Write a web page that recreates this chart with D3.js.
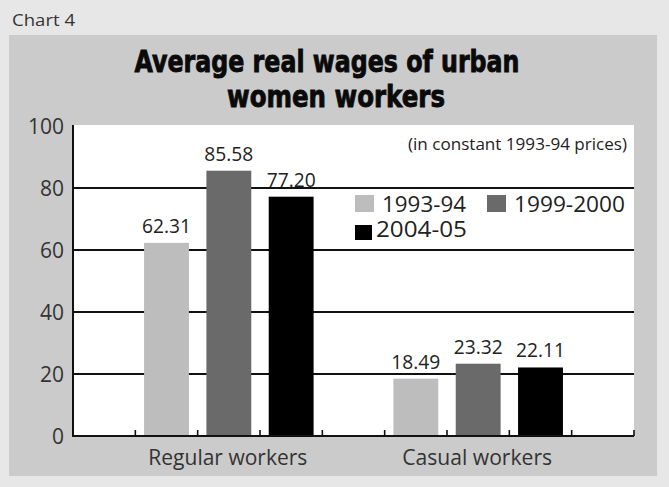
<!DOCTYPE html>
<html>
<head>
<meta charset="utf-8">
<script src="https://cdn.jsdelivr.net/npm/d3@7"></script>
<style>
  html, body { margin: 0; padding: 0; background: #e7e7e7; }
  svg { display: block; }
</style>
</head>
<body>
<svg id="chart" width="669" height="487"></svg>
<script>
// data
const categories = ["Regular workers", "Casual workers"];
const years = ["1993-94", "1999-2000", "2004-05"];
const regularWages = [62.31, 85.58, 77.20];
const casualWages = [18.49, 23.32, 22.11];
const yTicks = [0, 20, 40, 60, 80, 100];

const barColors = ["#bdbdbd", "#6a6a6a", "#000000"];
const textFont = "'Open Sans', 'DejaVu Sans', sans-serif";

const svg = d3.select("#chart");
const W = 669, H = 487;

// page + grey panel
svg.append("rect").attr("width", W).attr("height", H).attr("fill", "#e7e7e7");
svg.append("rect").attr("x", 9).attr("y", 35).attr("width", 648).attr("height", 441).attr("fill", "#cbcbcb");

svg.append("text")
  .attr("x", 12).attr("y", 26)
  .attr("font-family", textFont).attr("font-size", 16)
  .attr("textLength", 63).attr("lengthAdjust", "spacingAndGlyphs")
  .attr("fill", "#333")
  .text("Chart 4");

// title (heavy condensed look: bold + thin stroke, squeezed to measured width)
const titleLines = ["Average real wages of urban", "women workers"];
const titleW = [385, 218];
svg.selectAll(".title").data(titleLines).enter().append("text")
  .attr("class", "title")
  .attr("x", (d, i) => i == 0 ? 327 : 336)
  .attr("y", (d, i) => i == 0 ? 72 : 107)
  .attr("text-anchor", "middle")
  .attr("font-family", "'DejaVu Sans', sans-serif")
  .attr("font-weight", "bold")
  .attr("font-size", 30)
  .attr("textLength", (d, i) => titleW[i])
  .attr("lengthAdjust", "spacingAndGlyphs")
  .attr("fill", "#0a0a0a")
  .attr("stroke", "#0a0a0a").attr("stroke-width", 0.9)
  .text(d => d);

// plot area
const pLeft = 73, pRight = 634, pTop = 126, pBottom = 436;

svg.append("rect")
  .attr("x", pLeft).attr("y", pTop - 1)
  .attr("width", pRight - pLeft).attr("height", pBottom - pTop + 1)
  .attr("fill", "#fff");

const y = d3.scaleLinear().domain([0, 100]).range([pBottom, pTop]);

const x0 = d3.scaleBand().domain(categories).range([pLeft, pRight])
  .paddingInner(0.25).paddingOuter(0.25);
const x1 = d3.scaleBand().domain(years).range([0, x0.bandwidth()])
  .paddingInner(0.28).paddingOuter(0.14);

// gridlines
svg.selectAll(".grid").data(yTicks.filter(d => d > 0 && d < 100)).enter().append("line")
  .attr("x1", pLeft).attr("x2", pRight)
  .attr("y1", d => y(d)).attr("y2", d => y(d))
  .attr("stroke", "#111").attr("stroke-width", 1.8);

// y labels
svg.selectAll(".ylab").data(yTicks).enter().append("text")
  .attr("x", 64).attr("y", d => y(d))
  .attr("dy", "0.36em")
  .attr("text-anchor", "end")
  .attr("font-family", textFont).attr("font-size", 21)
  .attr("fill", "#333")
  .text(d => d);

// bars
const rows = categories.map((c, i) => ({
  cat: c,
  vals: (i == 0 ? regularWages : casualWages).map((v, j) => ({ year: years[j], value: v, color: barColors[j] }))
}));

const groups = svg.selectAll(".grp").data(rows).enter().append("g")
  .attr("transform", d => "translate(" + x0(d.cat) + ",0)");

groups.selectAll("rect").data(d => d.vals).enter().append("rect")
  .attr("x", d => x1(d.year))
  .attr("y", d => y(d.value))
  .attr("width", x1.bandwidth())
  .attr("height", d => pBottom - y(d.value))
  .attr("fill", d => d.color);

groups.selectAll(".val").data(d => d.vals).enter().append("text")
  .attr("x", d => x1(d.year) + x1.bandwidth() / 2)
  .attr("y", d => y(d.value) - 10)
  .attr("text-anchor", "middle")
  .attr("font-family", textFont).attr("font-size", 20)
  .attr("textLength", 49).attr("lengthAdjust", "spacingAndGlyphs")
  .attr("fill", "#222")
  .text(d => d.value.toFixed(2));

// axes
svg.append("line").attr("x1", pLeft).attr("x2", pLeft).attr("y1", pTop - 1).attr("y2", pBottom + 1)
  .attr("stroke", "#111").attr("stroke-width", 2);
svg.append("line").attr("x1", pLeft - 1).attr("x2", pRight).attr("y1", pBottom).attr("y2", pBottom)
  .attr("stroke", "#111").attr("stroke-width", 2);

// small up ticks at slot edges
const step = x1.step();
let tickX = [];
categories.forEach(c => {
  for (let k = 0; k <= 3; k++) tickX.push(x0(c) + k * step);
});
tickX.push(pRight);
svg.selectAll(".tick").data(tickX).enter().append("line")
  .attr("x1", d => d).attr("x2", d => d)
  .attr("y1", pBottom).attr("y2", pBottom - 6)
  .attr("stroke", "#111").attr("stroke-width", 1.6);

// x labels
const catW = [159, 150];
svg.selectAll(".xlab").data(categories).enter().append("text")
  .attr("x", d => x0(d) + x0.bandwidth() / 2 - 1)
  .attr("y", 465)
  .attr("text-anchor", "middle")
  .attr("font-family", textFont).attr("font-size", 21)
  .attr("textLength", (d, i) => catW[i]).attr("lengthAdjust", "spacingAndGlyphs")
  .attr("fill", "#333")
  .text(d => d);

// note
svg.append("text")
  .attr("x", 627).attr("y", 150)
  .attr("text-anchor", "end")
  .attr("font-family", textFont).attr("font-size", 17)
  .attr("textLength", 219).attr("lengthAdjust", "spacingAndGlyphs")
  .attr("fill", "#222")
  .text("(in constant 1993-94 prices)");

// legend
const legendPos = [[355, 212], [487, 212], [355, 237]];
const legendW = [84, 111, 91];
const leg = svg.selectAll(".leg").data(years).enter().append("g")
  .attr("transform", (d, i) => "translate(" + legendPos[i][0] + "," + legendPos[i][1] + ")");
leg.append("rect")
  .attr("x", 0).attr("y", (d, i) => i == 2 ? -12 : -17)
  .attr("width", (d, i) => i == 2 ? 17 : 19)
  .attr("height", (d, i) => i == 2 ? 15 : 17)
  .attr("fill", (d, i) => barColors[i]);
leg.append("text")
  .attr("x", (d, i) => i == 2 ? 21 : 27)
  .attr("y", 0)
  .attr("font-family", textFont).attr("font-size", 21)
  .attr("textLength", (d, i) => legendW[i]).attr("lengthAdjust", "spacingAndGlyphs")
  .attr("fill", "#222")
  .text(d => d);
</script>
</body>
</html>
